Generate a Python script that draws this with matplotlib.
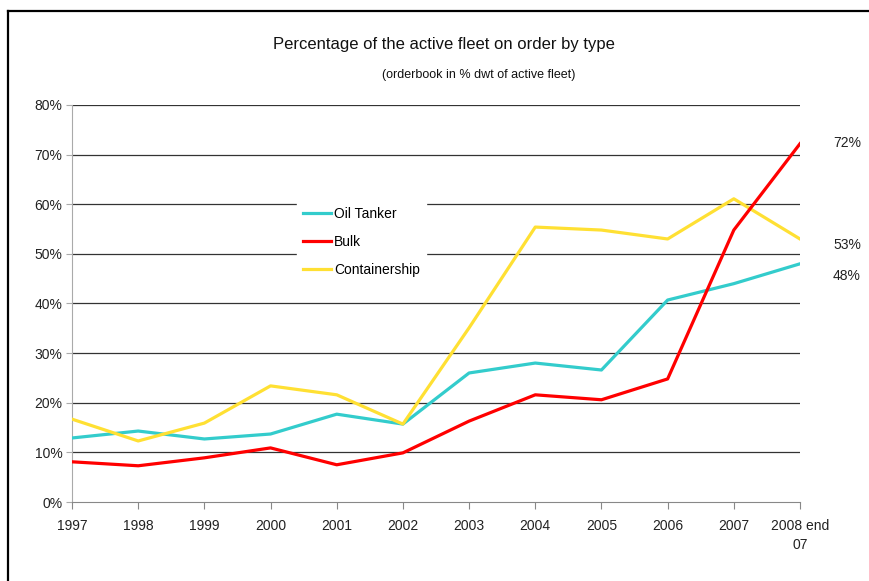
import matplotlib
matplotlib.use("Agg")
import matplotlib.pyplot as plt
from matplotlib.lines import Line2D

plt.rcParams['font.family'] = ['Liberation Sans', 'DejaVu Sans']

years = ["1997", "1998", "1999", "2000", "2001", "2002", "2003", "2004",
         "2005", "2006", "2007", "2008 end\n07"]
oil_tanker = [12.9, 14.3, 12.7, 13.7, 17.7, 15.7, 26.0, 28.0, 26.6, 40.7, 44.0, 48.0]
bulk = [8.1, 7.3, 8.9, 10.9, 7.5, 9.9, 16.3, 21.6, 20.6, 24.8, 54.8, 72.2]
containership = [16.7, 12.3, 15.9, 23.4, 21.6, 15.7, 35.1, 55.4, 54.8, 53.0, 61.1, 53.0]
yticks = [0, 10, 20, 30, 40, 50, 60, 70, 80]
end_labels = ["72%", "53%", "48%"]

W, H = 870, 581
fig = plt.figure(figsize=(W / 100, H / 100), dpi=100)
ax = fig.add_axes([72 / W, (H - 502) / H, (800 - 72) / W, (502 - 105) / H])

x = list(range(len(years)))
c_oil, c_bulk, c_cont = "#33CCCC", "#FF0000", "#FFE033"
ax.plot(x, oil_tanker, color=c_oil, lw=2.3, zorder=3)
ax.plot(x, bulk, color=c_bulk, lw=2.3, zorder=4)
ax.plot(x, containership, color=c_cont, lw=2.3, zorder=3)

ax.set_xlim(0, len(years) - 1)
ax.set_ylim(0, 80)
ax.set_yticks(yticks)
ax.set_yticklabels([f"{v}%" for v in yticks], fontsize=10, color="#222222")
ax.set_xticks(x)
ax.set_xticklabels(years, fontsize=10, color="#222222", linespacing=1.5)
for t in ax.get_xticklabels():
    t.set_verticalalignment("top")
    t.set_multialignment("center")

for v in yticks[1:]:
    ax.axhline(v, color="#333333", lw=0.9, zorder=1)

for s in ["top", "right"]:
    ax.spines[s].set_visible(False)
ax.spines["left"].set_color("#AAAAAA")
ax.spines["bottom"].set_color("#888888")
ax.tick_params(axis="y", length=4, color="#AAAAAA", pad=3)
ax.tick_params(axis="x", length=5, color="#888888", direction="out", pad=7)

handles = [Line2D([], [], color=c_oil, lw=2.3),
           Line2D([], [], color=c_bulk, lw=2.3),
           Line2D([], [], color=c_cont, lw=2.3)]
leg = ax.legend(handles, ["Oil Tanker", "Bulk", "Containership"],
                loc="upper left", bbox_to_anchor=((297 - 72) / (800 - 72), (502 - 201) / (502 - 105)),
                frameon=True, fontsize=10, handlelength=2.0, handletextpad=0.2,
                labelspacing=1.0, borderpad=0.45, borderaxespad=0)
leg.get_frame().set_facecolor("white")
leg.get_frame().set_edgecolor("white")
leg.get_frame().set_alpha(1)
leg.get_frame().set_boxstyle("square", pad=0)
leg.set_zorder(5)

# end labels
ypix = [143, 245, 276]
for lab, yp in zip(end_labels, ypix):
    fig.text(847 / W, (H - yp) / H, lab, ha="center", va="center", fontsize=10, color="#222222")

fig.text(444 / W, (H - 45) / H, "Percentage of the active fleet on order by type",
         ha="center", va="center", fontsize=12, color="#111111")
fig.text(479 / W, (H - 75) / H, "(orderbook in % dwt of active fleet)",
         ha="center", va="center", fontsize=9, color="#111111")

# outer frame (top and left edges)
fig.add_artist(Line2D([8.5 / W, 1.0], [(H - 10.5) / H, (H - 10.5) / H], color="black", lw=1.6,
                      transform=fig.transFigure))
fig.add_artist(Line2D([8.5 / W, 8.5 / W], [0, (H - 10.5) / H], color="black", lw=1.6,
                      transform=fig.transFigure))

fig.savefig("out.png", dpi=100)
